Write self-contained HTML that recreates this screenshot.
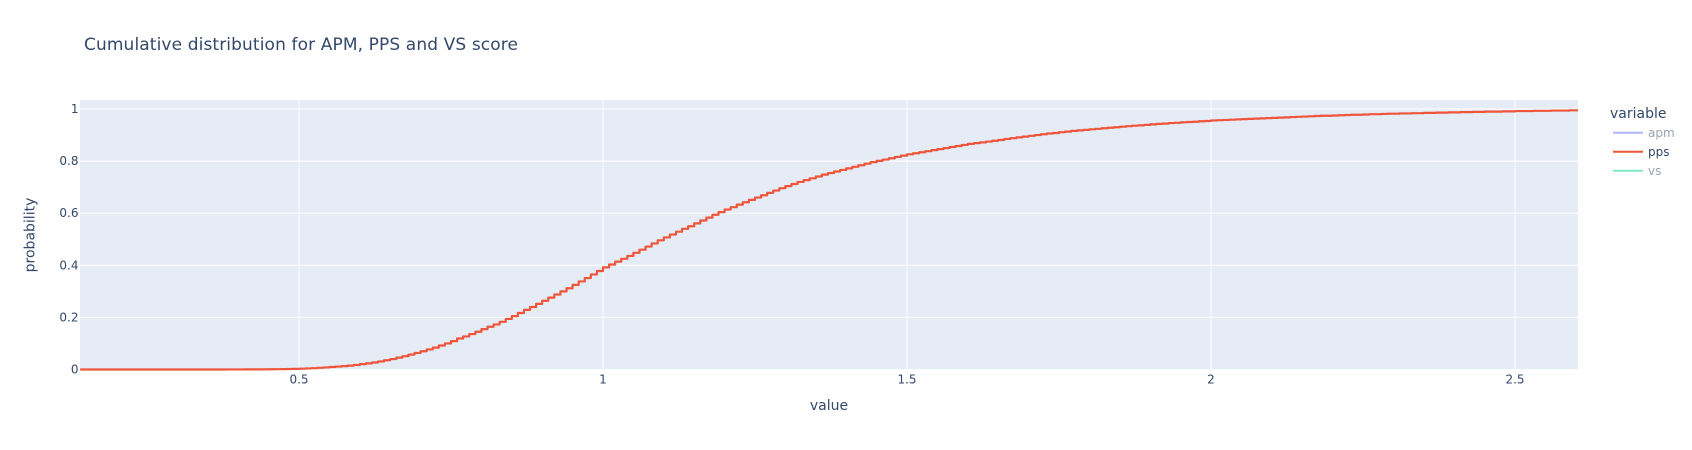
<!DOCTYPE html>
<html lang="en">
<head>
<meta charset="utf-8">
<title>Cumulative distribution for APM, PPS and VS score</title>
<style>
html,body{margin:0;padding:0;background:#fff;width:1692px;height:450px;overflow:hidden}
svg{display:block;filter:blur(0.35px)}
text{font-family:"DejaVu Sans","Liberation Sans",sans-serif;fill:#34486a}
</style>
</head>
<body>
<svg id="chart" xmlns="http://www.w3.org/2000/svg" width="1692" height="450" viewBox="0 0 1692 450">
  <rect x="80" y="100" width="1498" height="269.5" fill="#e5ecf6"/>
  <g id="x-grid"></g>
  <g id="y-grid"></g>
  <defs><clipPath id="plot-clip"><rect x="80" y="100" width="1498" height="272"/></clipPath></defs>
  <g clip-path="url(#plot-clip)">
    <path id="pps-line" fill="none" stroke="#EF553B" stroke-width="2.2" stroke-linejoin="round"/>
  </g>
  <g id="x-labels"></g>
  <g id="y-labels"></g>
  <text x="84" y="50" font-size="17" letter-spacing="0.115">Cumulative distribution for APM, PPS and VS score</text>
  <text x="829" y="410" font-size="14" text-anchor="middle">value</text>
  <text x="0" y="0" font-size="14" text-anchor="middle" transform="translate(34.5,235) rotate(-90)">probability</text>
  <g>
    <text x="1610" y="118" font-size="14">variable</text>
    <g opacity="0.5">
      <line x1="1613" x2="1643" y1="132.7" y2="132.7" stroke="#636efa" stroke-width="2"/>
      <text x="1648" y="137" font-size="12">apm</text>
    </g>
    <g>
      <line x1="1613" x2="1643" y1="151.7" y2="151.7" stroke="#EF553B" stroke-width="2"/>
      <text x="1648" y="156" font-size="12">pps</text>
    </g>
    <g opacity="0.5">
      <line x1="1613" x2="1643" y1="170.7" y2="170.7" stroke="#00cc96" stroke-width="2"/>
      <text x="1648" y="175" font-size="12">vs</text>
    </g>
  </g>
</svg>
<script>
const xTicks = [0.5, 1, 1.5, 2, 2.5];
const xTickLabels = ["0.5", "1", "1.5", "2", "2.5"];
const yTicks = [0, 0.2, 0.4, 0.6, 0.8, 1];
const yTickLabels = ["0", "0.2", "0.4", "0.6", "0.8", "1"];

const ppsValue = [
0.14,0.15,0.16,0.17,0.18,0.19,0.20,0.21,0.22,0.23,
0.24,0.25,0.26,0.27,0.28,0.29,0.30,0.31,0.32,0.33,
0.34,0.35,0.36,0.37,0.38,0.39,0.40,0.41,0.42,0.43,
0.44,0.45,0.46,0.47,0.48,0.49,0.50,0.51,0.52,0.53,
0.54,0.55,0.56,0.57,0.58,0.59,0.60,0.61,0.62,0.63,
0.64,0.65,0.66,0.67,0.68,0.69,0.70,0.71,0.72,0.73,
0.74,0.75,0.76,0.77,0.78,0.79,0.80,0.81,0.82,0.83,
0.84,0.85,0.86,0.87,0.88,0.89,0.90,0.91,0.92,0.93,
0.94,0.95,0.96,0.97,0.98,0.99,1.00,1.01,1.02,1.03,
1.04,1.05,1.06,1.07,1.08,1.09,1.10,1.11,1.12,1.13,
1.14,1.15,1.16,1.17,1.18,1.19,1.20,1.21,1.22,1.23,
1.24,1.25,1.26,1.27,1.28,1.29,1.30,1.31,1.32,1.33,
1.34,1.35,1.36,1.37,1.38,1.39,1.40,1.41,1.42,1.43,
1.44,1.45,1.46,1.47,1.48,1.49,1.50,1.51,1.52,1.53,
1.54,1.55,1.56,1.57,1.58,1.59,1.60,1.61,1.62,1.63,
1.64,1.65,1.66,1.67,1.68,1.69,1.70,1.71,1.72,1.73,
1.74,1.75,1.76,1.77,1.78,1.79,1.80,1.81,1.82,1.83,
1.84,1.85,1.86,1.87,1.88,1.89,1.90,1.91,1.92,1.93,
1.94,1.95,1.96,1.97,1.98,1.99,2.00,2.01,2.02,2.03,
2.04,2.05,2.06,2.07,2.08,2.09,2.10,2.11,2.12,2.13,
2.14,2.15,2.16,2.17,2.18,2.19,2.20,2.21,2.22,2.23,
2.24,2.25,2.26,2.27,2.28,2.29,2.30,2.31,2.32,2.33,
2.34,2.35,2.36,2.37,2.38,2.39,2.40,2.41,2.42,2.43,
2.44,2.45,2.46,2.47,2.48,2.49,2.50,2.51,2.52,2.53,
2.54,2.55,2.56,2.57,2.58,2.59,2.60,2.61
];

const ppsProbability = [
0,0,0,0,0,0,0,0,0,0,
0,0,0,0,0,0,0,0,0,0,
0,0,0,0,0.0002,0.0002,0.0003,0.0004,0.0005,0.0006,
0.0008,0.001,0.0012,0.0015,0.0019,0.0024,0.0032,0.004,0.005,0.0064,
0.008,0.0095,0.0112,0.013,0.015,0.0175,0.0205,0.0235,0.027,0.031,
0.0355,0.04,0.0455,0.051,0.057,0.0635,0.07,0.077,0.084,0.092,
0.1,0.109,0.119,0.127,0.136,0.145,0.155,0.164,0.173,0.183,
0.194,0.205,0.217,0.229,0.24,0.252,0.264,0.276,0.288,0.3,
0.312,0.325,0.338,0.351,0.365,0.378,0.392,0.403,0.414,0.425,
0.436,0.448,0.46,0.472,0.484,0.496,0.507,0.518,0.529,0.54,
0.55,0.561,0.572,0.583,0.594,0.604,0.614,0.623,0.633,0.642,
0.651,0.66,0.669,0.678,0.687,0.696,0.704,0.712,0.72,0.727,
0.734,0.741,0.748,0.754,0.76,0.766,0.772,0.778,0.784,0.79,
0.796,0.801,0.806,0.811,0.816,0.821,0.826,0.83,0.834,0.838,
0.842,0.846,0.85,0.854,0.858,0.862,0.866,0.869,0.872,0.875,
0.878,0.881,0.885,0.888,0.891,0.894,0.897,0.9,0.903,0.906,
0.908,0.911,0.913,0.916,0.918,0.92,0.922,0.924,0.926,0.928,
0.93,0.932,0.934,0.936,0.937,0.939,0.941,0.943,0.944,0.946,
0.947,0.949,0.95,0.951,0.953,0.954,0.956,0.957,0.958,0.959,
0.96,0.961,0.962,0.963,0.964,0.965,0.966,0.967,0.968,0.969,
0.97,0.971,0.972,0.973,0.974,0.974,0.975,0.976,0.977,0.978,
0.978,0.979,0.98,0.98,0.981,0.982,0.982,0.983,0.983,0.984,
0.984,0.985,0.985,0.986,0.986,0.987,0.987,0.988,0.988,0.989,
0.989,0.99,0.99,0.99,0.991,0.991,0.992,0.992,0.992,0.993,
0.993,0.993,0.994,0.994,0.994,0.995,0.995,0.996
];

const SVG_NS = "http://www.w3.org/2000/svg";
function xScale(v) { return 299 + (v - 0.5) * 608; }
function yScale(v) { return 369.5 - v * 260.5; }

const xGrid = document.getElementById("x-grid");
const xLabels = document.getElementById("x-labels");
xTicks.forEach(function (tick, i) {
  const line = document.createElementNS(SVG_NS, "line");
  
  
  line.setAttribute("x1", xScale(tick));
  line.setAttribute("x2", xScale(tick));
  line.setAttribute("y1", 100);
  line.setAttribute("y2", 369.5);
  line.setAttribute("stroke", "#ffffff");
  line.setAttribute("stroke-width", 1);
  xGrid.appendChild(line);

  const label = document.createElementNS(SVG_NS, "text");
  
  
  label.setAttribute("x", xScale(tick));
  label.setAttribute("y", 383.5);
  label.setAttribute("font-size", 12);
  label.setAttribute("text-anchor", "middle");
  label.textContent = xTickLabels[i];
  xLabels.appendChild(label);
});

const yGrid = document.getElementById("y-grid");
const yLabels = document.getElementById("y-labels");
yTicks.forEach(function (tick, i) {
  const line = document.createElementNS(SVG_NS, "line");
  
  
  line.setAttribute("x1", 80);
  line.setAttribute("x2", 1578);
  line.setAttribute("y1", yScale(tick));
  line.setAttribute("y2", yScale(tick));
  line.setAttribute("stroke", "#ffffff");
  line.setAttribute("stroke-width", 1);
  yGrid.appendChild(line);

  const label = document.createElementNS(SVG_NS, "text");
  
  
  label.setAttribute("x", 78.5);
  label.setAttribute("y", yScale(tick) + 4);
  label.setAttribute("font-size", 12);
  label.setAttribute("text-anchor", "end");
  label.textContent = yTickLabels[i];
  yLabels.appendChild(label);
});

let pathData = "";
ppsValue.forEach(function (value, i) {
  const px = xScale(value).toFixed(2);
  const py = yScale(ppsProbability[i]).toFixed(2);
  if (i === 0) {
    pathData += "M" + px + "," + py;
  } else {
    pathData += "H" + px + "V" + py;
  }
});
document.getElementById("pps-line").setAttribute("d", pathData);
</script>
</body>
</html>
